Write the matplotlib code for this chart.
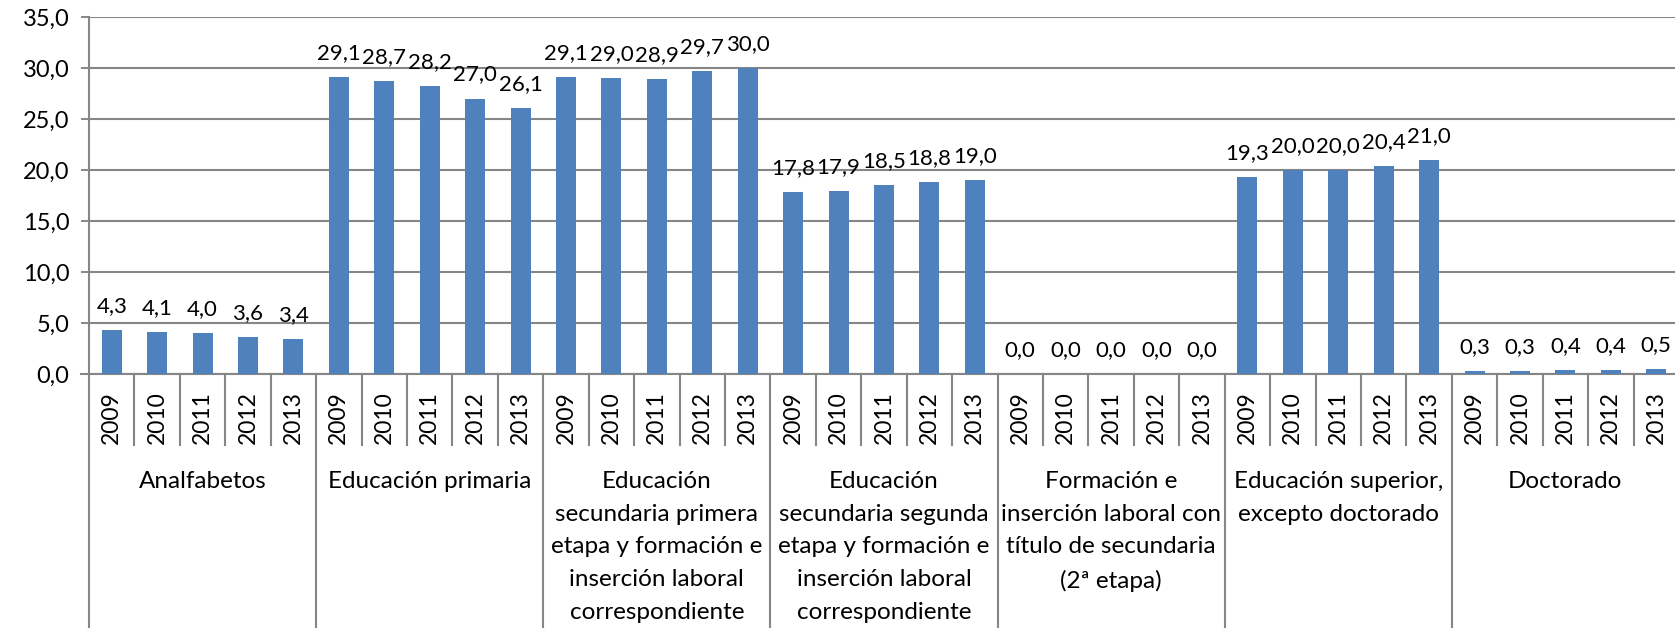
import matplotlib
matplotlib.use("Agg")
import matplotlib.pyplot as plt
import matplotlib.transforms as mtransforms
import numpy as np


years = ["2009", "2010", "2011", "2012", "2013"]

groups = [
    "Analfabetos",
    "Educación primaria",
    "Educación\nsecundaria primera\netapa y formación e\ninserción laboral\ncorrespondiente",
    "Educación\nsecundaria segunda\netapa y formación e\ninserción laboral\ncorrespondiente",
    "Formación e\ninserción laboral con\ntítulo de secundaria\n(2ª etapa)",
    "Educación superior,\nexcepto doctorado",
    "Doctorado",
]

analfabetos = [4.3, 4.1, 4.0, 3.6, 3.4]
primaria = [29.1, 28.7, 28.2, 27.0, 26.1]
secundaria_1 = [29.1, 29.0, 28.9, 29.7, 30.0]
secundaria_2 = [17.8, 17.9, 18.5, 18.8, 19.0]
formacion = [0.0, 0.0, 0.0, 0.0, 0.0]
superior = [19.3, 20.0, 20.0, 20.4, 21.0]
doctorado = [0.3, 0.3, 0.4, 0.4, 0.5]

series = [analfabetos, primaria, secundaria_1, secundaria_2,
          formacion, superior, doctorado]

y_ticks = [0, 5, 10, 15, 20, 25, 30, 35]

BAR = "#4F81BD"
GRID = "#868686"
W, H = 1675, 628

plt.rcParams["font.family"] = ["Lato", "DejaVu Sans"]


def fmt(v):
    return f"{v:.1f}".replace(".", ",")


values = [v for s in series for v in s]
x = np.arange(len(values))

fig = plt.figure(figsize=(W / 100, H / 100), dpi=100)
ax = fig.add_axes([89 / W, 1 - 374 / H, (1679 - 89) / W, (374 - 17) / H])

ax.bar(x, values, width=0.44, color=BAR, zorder=3)

for xi, v in zip(x, values):
    ax.annotate(fmt(v), (xi, v), xytext=(0, 13), textcoords="offset points",
                ha="center", va="baseline", fontsize=16, color="black")

ax.set_xlim(-0.5, len(values) - 0.5)
ax.set_ylim(0, 35)
ax.set_yticks(y_ticks)
ax.set_yticklabels([fmt(t) for t in y_ticks])
ax.yaxis.grid(True, color=GRID, linewidth=1.5, zorder=0)
ax.tick_params(axis="y", length=6, width=1.4, color=GRID, pad=8,
               labelsize=17)
ax.set_xticks([])
for side in ["top", "right"]:
    ax.spines[side].set_visible(False)
ax.spines["left"].set_color(GRID)
ax.spines["left"].set_linewidth(1.5)
ax.spines["bottom"].set_color(GRID)
ax.spines["bottom"].set_linewidth(1.5)

# multi-level category axis below the plot
trans = mtransforms.blended_transform_factory(ax.transData, fig.transFigure)


def fy(ypix):
    return 1 - ypix / H


# x-axis line extends left a little like the tick marks
ax.plot([-0.5 - 8 / 45.4, -0.5], [0, 0], color=GRID, lw=1.5,
        clip_on=False, zorder=4)

n = len(years)
for i in range(len(values)):
    ax.text(i, fy(391), years[i % n], rotation=90, ha="center", va="top",
            transform=trans, fontsize=16.5)
    if i % n != 0:
        ax.plot([i - 0.5, i - 0.5], [fy(374), fy(445)], color=GRID, lw=1.5,
                transform=trans, clip_on=False)

for g, name in enumerate(groups):
    left = g * n - 0.5
    ax.plot([left, left], [fy(374), fy(628)], color=GRID, lw=1.5,
            transform=trans, clip_on=False)
    ax.text(g * n + (n - 1) / 2, fy(471), name, ha="center", va="top",
            multialignment="center", linespacing=1.69, transform=trans,
            fontsize=17.5)

fig.savefig("out.png", dpi=100)
